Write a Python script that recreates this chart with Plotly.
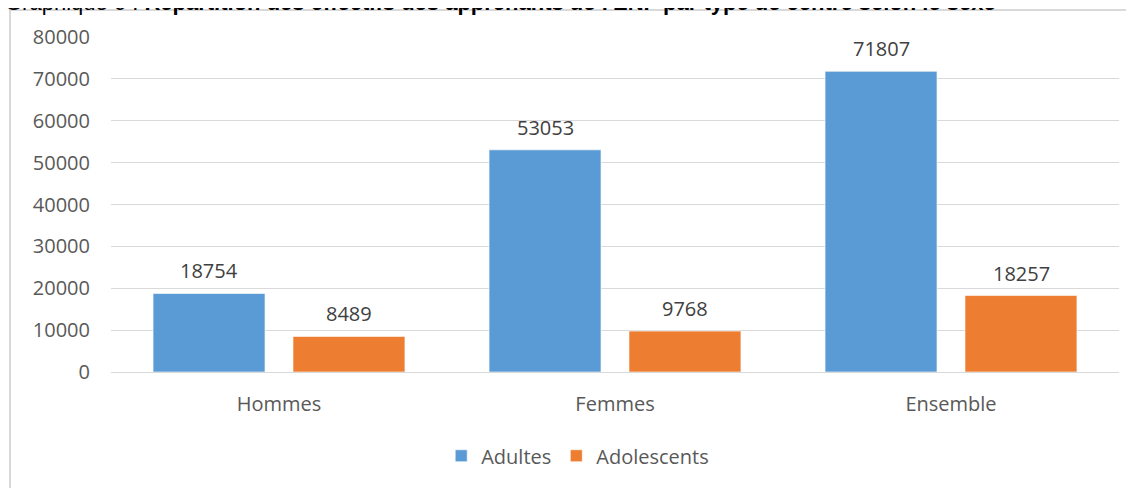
import plotly.graph_objects as go

categories = ["Hommes", "Femmes", "Ensemble"]
adultes = [18754, 53053, 71807]
adolescents = [8489, 9768, 18257]
series_names = ["Adultes", "Adolescents"]
colors = ["#5B9BD5", "#ED7D31"]
y_ticks = [0, 10000, 20000, 30000, 40000, 50000, 60000, 70000, 80000]
title_text = "Graphique 6 : <b>Répartition des effectifs des apprenants de l'ENF par type de centre selon le sexe</b>"

FONT = "Open Sans, Segoe UI, sans-serif"

# figure-pixel geometry of the plot area
L, T, B, W = 103, 29, 364, 1008
H = B - T

fig = go.Figure()
for name, vals, col in zip(series_names, [adultes, adolescents], colors):
    fig.add_trace(go.Bar(
        x=categories, y=vals, name=name,
        marker=dict(color=col, line=dict(color="rgba(255,255,255,0.6)", width=1)),
    ))

# data labels
annots = []
for vals, shift in zip([adultes, adolescents], [-70, 70]):
    for c, v in zip(categories, vals):
        annots.append(dict(x=c, y=v, xref="x", yref="y", text=str(v), showarrow=False,
                           xshift=shift, yshift=7, yanchor="bottom",
                           font=dict(family=FONT, size=20, color="#404040")))

# cropped title at top
annots.append(dict(x=(-5 - L) / W, y=(B - 9) / H, xref="paper", yref="paper", xanchor="left",
                   yanchor="bottom", text=title_text, showarrow=False,
                   font=dict(family="Arial, Liberation Sans, sans-serif", size=22, color="#000000")))

fig.update_layout(
    width=1134, height=488,
    margin=dict(l=L, r=1134 - L - W, t=T, b=488 - B, autoexpand=False),
    paper_bgcolor="white", plot_bgcolor="white",
    barmode="group", bargap=0.167, bargroupgap=0.2,
    font=dict(family=FONT, size=20, color="#595959"),
    showlegend=True,
    legend=dict(orientation="h", x=0.463, xanchor="center", y=-0.25, yanchor="middle",
                font=dict(family=FONT, size=20, color="#595959"), itemwidth=30),
    annotations=annots,
    shapes=[dict(type="rect", xref="paper", yref="paper",
                 x0=(2 - L) / W, x1=1.2, y0=-0.6, y1=(B - 2) / H,
                 line=dict(color="#D9D9D9", width=2), fillcolor="rgba(0,0,0,0)", layer="below")],
)
fig.update_xaxes(showgrid=False, showline=False, ticks="", ticklabelstandoff=18, automargin=False,
                 tickfont=dict(family=FONT, size=20, color="#595959"))
fig.update_yaxes(range=[0, 80000], tickvals=y_ticks, ticktext=[str(t) for t in y_ticks],
                 showgrid=True, gridcolor="#D9D9D9", gridwidth=1, zeroline=True, automargin=False,
                 zerolinecolor="#D9D9D9", zerolinewidth=1, showline=False, ticks="",
                 ticklabelstandoff=20, tickfont=dict(family=FONT, size=20, color="#595959"))

fig.write_html("out.html")
